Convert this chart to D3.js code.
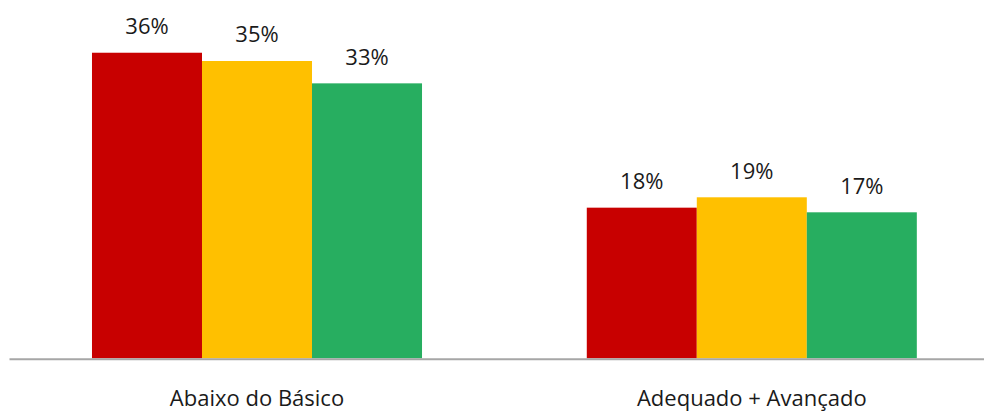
<!DOCTYPE html>
<html>
<head>
<meta charset="utf-8">
<script src="https://cdn.jsdelivr.net/npm/d3@7"></script>
<style>
  html, body { margin: 0; padding: 0; background: #fff; }
  svg { display: block; }
  text { font-family: "Open Sans", "Noto Sans", sans-serif; fill: #1a1a1a; }
</style>
</head>
<body>
<svg id="chart" width="984" height="412"></svg>
<script>
const categories = ["Abaixo do Básico", "Adequado + Avançado"];
const seriesNames = ["s1", "s2", "s3"];
const seriesA = [36.23, 17.86];   // red
const seriesB = [35.25, 19.09];   // yellow
const seriesC = [32.6, 17.31];    // green
const colors = ["#c80000", "#ffc000", "#27ae60"];

const W = 984, H = 412;
const baseY = 358.3;
const svg = d3.select("#chart");

const x0 = d3.scaleBand().domain(categories).range([9.6, 999.2]).paddingInner(0.333).paddingOuter(0.1665);
const x1 = d3.scaleBand().domain(seriesNames).range([0, x0.bandwidth()]).padding(0);
const y = d3.scaleLinear().domain([0, 40]).range([baseY, baseY - 40 * 8.434]);

const rows = categories.map((c, i) => ({
  cat: c,
  vals: [seriesA[i], seriesB[i], seriesC[i]].map((v, j) => ({ key: seriesNames[j], v, color: colors[j] }))
}));

const g = svg.selectAll("g.grp").data(rows).join("g")
  .attr("class", "grp")
  .attr("transform", d => `translate(${x0(d.cat)},0)`);

g.selectAll("rect").data(d => d.vals).join("rect")
  .attr("x", d => x1(d.key))
  .attr("y", d => y(d.v))
  .attr("width", x1.bandwidth())
  .attr("height", d => y(0) - y(d.v))
  .attr("fill", d => d.color);

const fmt = d3.format(".0f");
g.selectAll("text.lbl").data(d => d.vals).join("text")
  .attr("class", "lbl")
  .attr("x", d => x1(d.key) + x1.bandwidth() / 2)
  .attr("y", d => y(d.v) - 18.7)
  .attr("text-anchor", "middle")
  .attr("font-size", "22px")
  .text(d => fmt(d.v) + "%");

// baseline axis
const xAxis = d3.axisBottom(x0).tickSize(0).tickPadding(0);
const ax = svg.append("g").attr("transform", `translate(0,${baseY + 1})`).call(xAxis);
ax.select(".domain").remove();
ax.selectAll(".tick text").remove();
svg.append("line")
  .attr("x1", 9.5).attr("x2", W)
  .attr("y1", baseY + 1).attr("y2", baseY + 1)
  .attr("stroke", "#a6a6a6").attr("stroke-width", 2);

// category labels
ax.selectAll(".tick").append("text")
  .attr("y", 406 - (baseY + 1))
  .attr("text-anchor", "middle")
  .attr("font-size", "22px")
  .style("fill", "#1a1a1a")
  .text(d => d);
</script>
</body>
</html>
